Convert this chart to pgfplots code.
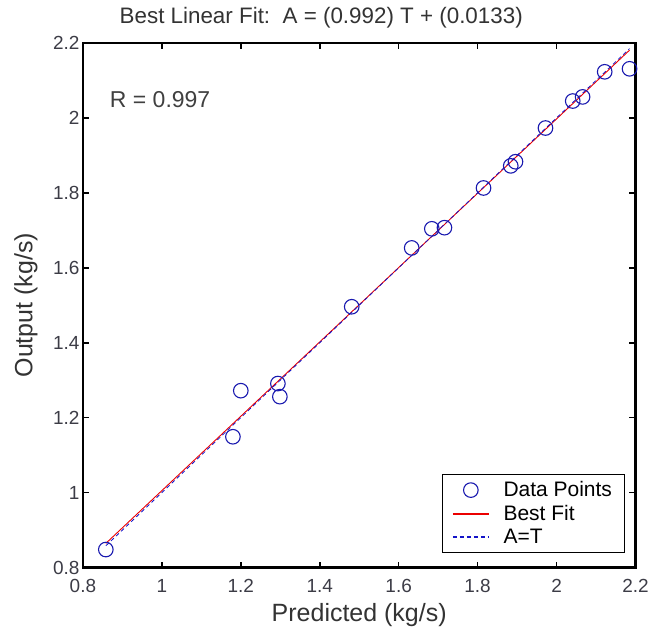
\documentclass[border=0pt]{standalone}
\usepackage{pgfplots}
\pgfplotsset{compat=1.18}
\usepackage{fontspec}
\setmainfont{Liberation Sans}
\definecolor{ticktext}{RGB}{60,60,70}
\definecolor{matblue}{RGB}{25,25,175}
\definecolor{fitred}{RGB}{235,0,0}
\definecolor{atblue}{RGB}{20,20,200}
\begin{document}
\begin{tikzpicture}
\begin{axis}[
    scale only axis,
    width=553pt, height=525pt,
    xmin=0.8, xmax=2.2, ymin=0.8, ymax=2.2,
    xtick={0.8,1,...,2.2}, ytick={0.8,1,...,2.2},
    xticklabels={0.8,1,1.2,1.4,1.6,1.8,2,2.2},
    yticklabels={0.8,1,1.2,1.4,1.6,1.8,2,2.2},
    tick align=inside,
    major tick length=6pt,
    tick style={black, line width=1.6pt},
    axis line style={black, line width=2.2pt},
    ticklabel style={font=\fontsize{19}{21}\selectfont, text=ticktext},
    xticklabel style={yshift=-8pt},
    /pgf/number format/assume math mode=true,
    xlabel={Predicted (kg/s)},
    ylabel={Output (kg/s)},
    label style={font=\fontsize{25}{28}\selectfont, text=black!80},
    xlabel style={at={(axis description cs:0.5,-0.0914)}, anchor=center},
    ylabel style={at={(axis description cs:-0.1031,0.5)}, anchor=center},
    title={Best Linear Fit:\ \ A = (0.992) T + (0.0133)},
    title style={font=\fontsize{22.4}{25}\selectfont, text=black!80,
        at={(axis description cs:0.5,1)}, anchor=base, yshift=13pt, xshift=-38pt},
    legend style={at={(0.98,0.0286)}, anchor=south east, line width=0.9pt,
        font=\fontsize{21}{24}\selectfont, cells={anchor=west}, inner xsep=10pt, inner ysep=5pt,
        row sep=3pt, column sep=12pt},
    legend cell align=left,
    legend image post style={line width=1.3pt},
    legend image code/.code={\draw[mark repeat=2,mark phase=2,#1] plot coordinates {(0pt,0pt) (18pt,0pt) (36pt,0pt)};},
]
\addplot[only marks, mark=o, mark size=7.3pt, color=matblue, mark options={line width=1.1pt}] coordinates {
    (0.858,0.848) (1.180,1.149) (1.200,1.272) (1.294,1.291) (1.299,1.256)
    (1.481,1.496) (1.633,1.653) (1.684,1.704) (1.716,1.707) (1.815,1.813)
    (1.884,1.872) (1.896,1.883) (1.972,1.973) (2.041,2.045) (2.066,2.056)
    (2.122,2.123) (2.185,2.131)
};
\addlegendentry{Data Points}
\addplot[color=fitred, line width=0.9pt, forget plot] coordinates {(0.858,0.8644) (2.185,2.1808)};
\addlegendimage{legend image code/.code={\draw[draw=fitred, line width=1.4pt] (0pt,0pt) -- (36pt,0pt);}}
\addlegendentry{Best Fit}
\addplot[color=atblue, dash pattern=on 4pt off 3pt, line width=0.8pt] coordinates {(0.858,0.858) (2.185,2.185)};
\addlegendentry{A=T}
\node[anchor=west, inner sep=0pt, font=\fontsize{23}{26}\selectfont, text=black!75] at (axis cs:0.868,2.048) {R = 0.997};
\end{axis}
\path ([xshift=-83pt,yshift=-62pt]current axis.south west) rectangle ([xshift=16pt,yshift=43pt]current axis.north east);
\end{tikzpicture}
\end{document}
